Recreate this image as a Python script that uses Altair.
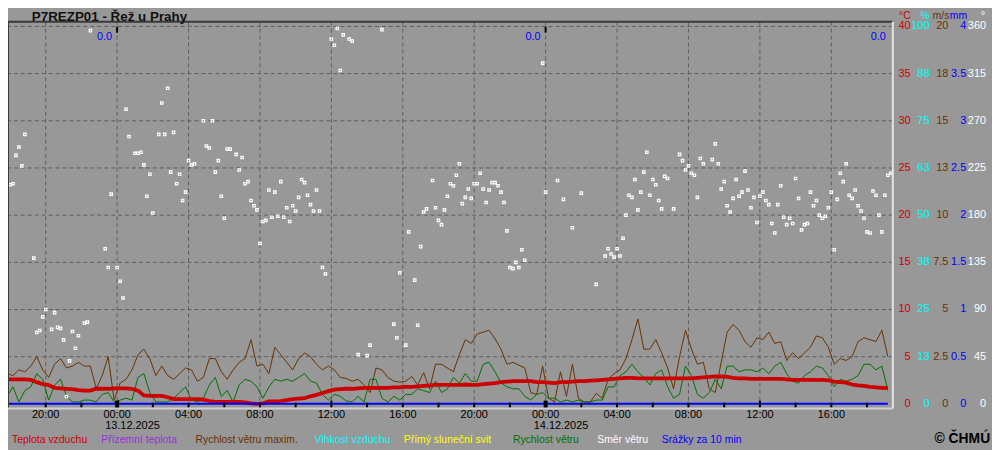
import altair as alt
import pandas as pd

# ---------------------------------------------------------------- data
# first sample: 12.12.2025 17:50, hours counted from 13.12.2025 00:00
FIRST_HOUR = -6.0 - 10.0 / 60.0

# 20-minute samples
temp_c = [
    2.6, 2.6, 2.6, 2.6, 2.55, 2.3, 2.1, 2.0, 1.7, 1.65,
    1.6, 1.55, 1.45, 1.4, 1.4, 1.6, 1.6, 1.6, 1.65, 1.65,
    1.65, 1.6, 1.4, 0.9, 0.85, 0.85, 0.85, 0.7, 0.5, 0.5,
    0.5, 0.5, 0.5, 0.45, 0.3, 0.2, 0.2, 0.2, 0.2, 0.2,
    0.15, 0.05, 0.0, 0.05, 0.25, 0.25, 0.3, 0.4, 0.5, 0.55,
    0.6, 0.8, 0.95, 1.15, 1.35, 1.5, 1.55, 1.6, 1.6, 1.65,
    1.7, 1.7, 1.7, 1.7, 1.7, 1.75, 1.75, 1.8, 1.8, 1.85,
    1.9, 1.95, 2.0, 2.0, 2.0, 2.0, 2.0, 2.05, 2.0, 2.0,
    2.1, 2.15, 2.2, 2.3, 2.35, 2.4, 2.4, 2.4, 2.4, 2.3,
    2.3, 2.25, 2.2, 2.3, 2.3, 2.35, 2.4, 2.4, 2.45, 2.5,
    2.55, 2.6, 2.65, 2.7, 2.75, 2.75, 2.7, 2.7, 2.7, 2.7,
    2.7, 2.7, 2.7, 2.7, 2.7, 2.7, 2.75, 2.8, 2.85, 2.9,
    2.9, 2.85, 2.75, 2.7, 2.7, 2.65, 2.65, 2.65, 2.65, 2.65,
    2.65, 2.6, 2.55, 2.55, 2.55, 2.55, 2.55, 2.55, 2.5, 2.35,
    2.3, 2.25, 2.05, 1.95, 1.9, 1.8, 1.75, 1.7, 1.7,
]
gust_ms = [
    1.6, 1.5, 1.8, 1.7, 2.0, 2.5, 1.8, 1.4, 2.1, 2.4,
    1.9, 2.0, 2.2, 2.0, 2.0, 0.8, 1.5, 2.5, 0.2, 1.1,
    1.3, 1.8, 2.6, 2.9, 2.4, 1.5, 2.0, 1.5, 1.3, 1.6,
    1.9, 1.8, 1.2, 1.4, 2.4, 2.4, 1.7, 1.3, 1.8, 2.2,
    2.4, 3.4, 2.0, 2.1, 1.6, 3.0, 2.6, 2.2, 1.8, 2.4,
    2.7, 2.5, 2.1, 1.8, 2.0, 1.8, 1.4, 1.35, 1.2, 1.3,
    1.0, 0.6, 1.9, 1.8, 1.4, 1.2, 1.15, 1.2, 1.45, 1.0,
    1.65, 0.8, 2.1, 2.1, 1.9, 1.7, 2.6, 3.4, 3.2, 3.7,
    3.8, 3.9, 3.45, 2.9, 2.1, 2.2, 2.05, 1.9, 0.6, 0.5,
    2.0, 0.3, 0.1, 1.7, 0.4, 2.1, 0.3, 0.1, 0.1, 0.55,
    0.3, 1.3, 1.6, 1.8, 2.4, 3.4, 4.5, 2.9, 2.9, 3.4,
    2.7, 1.9, 0.8, 2.5, 3.9, 2.9, 2.1, 2.2, 0.8, 0.6,
    2.2, 3.8, 4.2, 3.9, 3.3, 3.0, 3.5, 3.4, 3.8, 3.2,
    3.3, 2.3, 2.7, 2.4, 2.7, 3.0, 3.6, 3.5, 3.0, 2.1,
    2.4, 2.3, 2.5, 3.3, 3.5, 3.4, 3.3, 3.9, 2.5,
]
wind_ms = [
    0.4, 0.9, 0.1, 0.7, 0.9, 1.6, 1.3, 0.2, 1.0, 1.3,
    0.4, 0.1, 0.1, 0.2, 0.2, 0.1, 0.5, 0.6, 0.1, 0.2,
    0.3, 0.2, 1.4, 1.6, 0.6, 0.1, 0.1, 0.1, 0.3, 0.6,
    0.9, 0.2, 0.1, 0.3, 1.0, 1.4, 0.4, 0.7, 0.1, 1.0,
    1.3, 1.2, 0.9, 0.3, 0.9, 1.3, 1.2, 1.3, 1.2, 1.4,
    1.6, 1.2, 1.1, 0.5, 0.2, 0.5, 0.4, 0.15, 0.1, 0.4,
    0.1, 1.3, 1.3, 0.3, 0.1, 0.4, 0.2, 0.5, 0.5, 0.8,
    0.7, 0.6, 1.2, 0.6, 0.8, 1.4, 1.1, 1.6, 1.2, 1.2,
    2.1, 2.2, 1.7, 1.1, 0.9, 0.8, 0.8, 0.4, 0.2, 0.5,
    0.6, 0.3, 0.3, 0.1, 0.2, 0.1, 0.2, 0.1, 0.1, 0.2,
    0.2, 0.9, 0.9, 1.5, 1.7, 2.1, 1.7, 1.4, 1.0, 1.6,
    1.8, 0.9, 0.3, 0.5, 2.0, 1.5, 0.5, 0.3, 0.6, 1.3,
    0.8, 2.0, 2.0, 1.7, 1.8, 1.8, 1.7, 1.9, 1.6, 2.0,
    2.2, 1.6, 1.2, 1.1, 1.5, 1.7, 2.0, 1.9, 1.5, 0.9,
    1.3, 1.2, 1.3, 1.5, 2.1, 2.1, 1.8, 2.0, 0.7,
]
precip_mm = [0.0] * len(temp_c)

# wind direction: 10-minute sample number and direction in degrees
dir_idx = [
    0, 1, 2, 3, 4, 5, 6, 9, 10, 11, 12, 13, 15, 16, 17, 18, 19, 20, 21, 22,
    23, 24, 26, 27, 28, 33, 34, 35, 37, 38, 39, 40, 41, 43, 44, 45, 46, 47, 48, 49,
    51, 52, 53, 54, 55, 56, 57, 58, 59, 60, 61, 62, 63, 66, 67, 68, 69, 70, 71, 72,
    73, 74, 75, 77, 78, 79, 80, 81, 82, 83, 84, 85, 86, 87, 88, 89, 90, 91, 92, 93,
    94, 95, 96, 97,
    98, 99, 100, 101, 102, 103, 104, 105, 106, 107, 109, 110, 111, 112, 113, 115,
    116, 118, 121, 122, 126, 130, 131, 132, 134, 135, 137, 138, 139, 140, 141, 143,
    144, 145, 146, 147, 148, 149, 150, 151, 152, 153, 154, 155, 156, 157, 158, 159,
    160, 161, 162, 163, 164, 165, 166, 167, 168, 169, 170, 171, 172, 173, 174, 180,
    181, 185, 187, 190, 193,
    198, 201, 202, 203, 204, 205, 206, 207, 208, 209, 210, 211, 212, 213, 214, 215,
    216, 217, 218, 219, 220, 221, 222, 224, 226, 227, 228, 229, 230, 231, 232, 233,
    234, 237, 238, 239, 240, 241, 242, 243, 244, 245, 246, 247, 248, 249, 250, 251,
    252, 253, 254, 255, 256, 257, 258, 259, 260, 261, 262, 263, 264, 265, 266, 267,
    268, 269, 270, 271, 272, 273, 274, 275, 276, 277, 278, 279, 280, 281, 282, 283,
    284, 285, 286, 287, 288, 289, 290, 291, 292, 293, 294, 295, 296, 297,
]
dir_deg = [
    168, 209, 210, 237, 245, 227, 257, 139, 68, 70, 83, 90, 71, 87, 73, 72, 61, 7, 41, 69,
    53, 65, 77, 78, 356, 148, 130, 200, 130, 117, 101, 281, 255, 239, 239, 240, 228, 198, 219, 182,
    257, 287, 257, 301, 221, 259, 210, 219, 194, 202, 232, 228, 229, 270, 246, 244, 270, 221, 232, 198,
    177, 243, 243, 238, 223, 235, 210, 212, 194, 189, 185, 153, 174, 175, 204, 178, 202, 179, 212, 178,
    187, 174, 189, 184,
    197, 214, 211, 199, 190, 184, 204, 184, 130, 124, 348, 342, 358, 318, 352, 348,
    346, 47, 46, 56, 357, 76, 63, 125, 56, 164, 118, 75, 150, 183, 186, 213,
    187, 175, 171, 185, 198, 210, 208, 218, 229, 191, 197, 205, 196, 210, 210, 220,
    205, 192, 204, 211, 211, 208, 202, 192, 165, 130, 129, 135, 130, 147, 137, 325,
    202, 213, 195, 168, 201,
    114, 141, 148, 143, 140, 148, 141, 158, 180, 199, 197, 214, 185, 202, 221, 240,
    199, 214, 209, 194, 186, 217, 215, 186, 238, 232, 223, 227, 220, 218, 197, 234,
    229, 233, 248, 229, 205, 212, 189, 183, 196, 214, 198, 202, 222, 204, 187, 197,
    173, 198, 202, 194, 190, 172, 163, 190, 208, 178, 171, 177, 172, 215, 196, 166,
    171, 172, 202, 189, 194, 180, 177, 179, 187, 202, 147, 195, 220, 212, 229, 199,
    196, 204, 189, 184, 177, 164, 163, 203, 199, 180, 164, 199, 218, 220,
]

# right-hand scales
level_c = [0, 5, 10, 15, 20, 25, 30, 35, 40]
label_c = ["0", "5", "10", "15", "20", "25", "30", "35", "40"]
label_pct = ["0", "13", "25", "38", "50", "63", "75", "88", "100"]
label_ms = ["0", "2.5", "5", "7.5", "10", "13", "15", "18", "20"]
label_mm = ["0", "0.5", "1", "1.5", "2", "2.5", "3", "3.5", "4"]
label_deg = ["0", "45", "90", "135", "180", "225", "270", "315", "360"]
unit_labels = ["°C", "%", "m/s", "mm", "°"]

# time axis
tick_hours = [-4, 0, 4, 8, 12, 16, 20, 24, 28, 32, 36, 40]
tick_labels = ["20:00", "00:00", "04:00", "08:00", "12:00", "16:00",
               "20:00", "00:00", "04:00", "08:00", "12:00", "16:00"]
minor_tick_hours = [-4, -2, 2, 4, 6, 8, 10, 14, 16, 18, 20, 22,
                    26, 28, 30, 32, 34, 38, 40, 42]
noon_hours = [12, 36]
midnight_hours = [0, 24]
date_labels = ["13.12.2025", "14.12.2025"]

# daily precipitation totals
day_total_hours = [0, 24, 43.33]
day_total_text = ["0.0", "0.0", "0.0"]

title_text = "P7REZP01 - Řež u Prahy"
legend_items = [
    ("Teplota vzduchu", "#cc0000"),
    ("Přízemní teplota", "#9b30d9"),
    ("Rychlost větru maxim.", "#663300"),
    ("Vlhkost vzduchu", "#00ffff"),
    ("Přímý sluneční svit", "#ffff00"),
    ("Rychlost větru", "#007000"),
    ("Směr větru", "#ffffff"),
    ("Srážky za 10 min", "#0000ff"),
]

# ---------------------------------------------------------------- layout / style
W, H = 892, 390
BG = "#989898"
GRID = "#5e5e5e"
FONT = "Liberation Sans"
legend_x = [4, 94, 189, 309, 399, 509, 594, 659]
right_x = [910, 929, 948, 966, 986]
unit_x = [910, 929, 949, 967, 985]
right_colors = ["#cc0000", "#00ffff", "#663300", "#0000ff", "#ffffff"]

xs = alt.Scale(domain=[-110 / 18, 782 / 18], nice=False, zero=False)
ys_temp = alt.Scale(domain=[-0.5, 40.5], nice=False, zero=False)
ys_wind = alt.Scale(domain=[-0.25, 20.25], nice=False, zero=False)
ys_dir = alt.Scale(domain=[-4.5, 364.5], nice=False, zero=False)
ys_mm = alt.Scale(domain=[-0.05, 4.05], nice=False, zero=False)

n = len(temp_c)
series = pd.DataFrame({
    "h": [FIRST_HOUR + j / 3 for j in range(n)],
    "temp": temp_c, "wind": wind_ms, "gust": gust_ms, "precip": precip_mm,
})
dirs = pd.DataFrame({"h": [FIRST_HOUR + i / 6 for i in dir_idx], "deg": dir_deg})


def xh(field="h"):
    return alt.X(f"{field}:Q", scale=xs, axis=None)


layers = []

# grid
layers.append(alt.Chart(pd.DataFrame({"lvl": level_c[1:]})).mark_rule(
    color=GRID, strokeDash=[4, 3], strokeWidth=1).encode(
    y=alt.Y("lvl:Q", scale=ys_temp, axis=None)))
layers.append(alt.Chart(pd.DataFrame({"h": tick_hours})).mark_rule(
    color=GRID, strokeDash=[4, 3], strokeWidth=1).encode(x=xh()))

# series
layers.append(alt.Chart(series).mark_line(color="#663300", strokeWidth=1, clip=True).encode(
    x=xh(), y=alt.Y("gust:Q", scale=ys_wind, axis=None)))
layers.append(alt.Chart(series).mark_line(color="#007000", strokeWidth=1, clip=True).encode(
    x=xh(), y=alt.Y("wind:Q", scale=ys_wind, axis=None)))
layers.append(alt.Chart(series).mark_line(color="#cc0000", strokeWidth=3.8, clip=True).encode(
    x=xh(), y=alt.Y("temp:Q", scale=ys_temp, axis=None)))
layers.append(alt.Chart(series).mark_line(color="#0000ff", strokeWidth=2, clip=True).encode(
    x=xh(), y=alt.Y("precip:Q", scale=ys_mm, axis=None)))
layers.append(alt.Chart(dirs).mark_point(
    shape="square", filled=False, size=6, color="#ffffff", strokeWidth=1.2,
    opacity=1, clip=True).encode(
    x=xh(), y=alt.Y("deg:Q", scale=ys_dir, axis=None)))

# ticks at the bottom / top
layers.append(alt.Chart(pd.DataFrame({"h": minor_tick_hours})).mark_rule(
    color="#000000", strokeWidth=2).encode(x=xh(), y=alt.value(384), y2=alt.value(389)))
layers.append(alt.Chart(pd.DataFrame({"h": noon_hours})).mark_rule(
    color="#000000", strokeWidth=2).encode(x=xh(), y=alt.value(382), y2=alt.value(389)))
layers.append(alt.Chart(pd.DataFrame({"h": midnight_hours})).mark_rule(
    color="#000000", strokeWidth=4).encode(x=xh(), y=alt.value(382), y2=alt.value(390)))
layers.append(alt.Chart(pd.DataFrame({"h": midnight_hours})).mark_rule(
    color="#000000", strokeWidth=2).encode(x=xh(), y=alt.value(5), y2=alt.value(11)))

# frame
layers.append(alt.Chart(pd.DataFrame({"k": [0]})).mark_rule(color="#3a3a3a", strokeWidth=2).encode(
    y=alt.value(0)))
layers.append(alt.Chart(pd.DataFrame({"k": [0]})).mark_rule(color="#3a3a3a", strokeWidth=2).encode(
    x=alt.value(0)))
layers.append(alt.Chart(pd.DataFrame({"k": [0]})).mark_rule(color="#e4e4e4", strokeWidth=2).encode(
    x=alt.value(W)))
layers.append(alt.Chart(pd.DataFrame({"k": [0]})).mark_rule(color="#d0d0d0", strokeWidth=2).encode(
    y=alt.value(H)))

# right scale labels
right_df = pd.DataFrame({"lvl": level_c, "c": label_c, "p": label_pct,
                         "ms": label_ms, "mm": label_mm, "deg": label_deg})
for col, xp, colr in zip(["c", "p", "ms", "mm", "deg"], right_x, right_colors):
    layers.append(alt.Chart(right_df).mark_text(
        align="right", baseline="middle", font=FONT, fontSize=11, color=colr).encode(
        x=alt.value(xp), y=alt.Y("lvl:Q", scale=ys_temp, axis=None), text=f"{col}:N"))
for txt, xp, colr in zip(unit_labels, unit_x, right_colors):
    layers.append(alt.Chart(pd.DataFrame({"t": [txt]})).mark_text(
        align="right", baseline="middle", font=FONT, fontSize=10.5, color=colr).encode(
        x=alt.value(xp), y=alt.value(-6), text="t:N"))

# time labels and dates
layers.append(alt.Chart(pd.DataFrame({"h": tick_hours, "t": tick_labels})).mark_text(
    align="center", baseline="middle", font=FONT, fontSize=11, color="#000000").encode(
    x=xh(), y=alt.value(396), text="t:N"))
layers.append(alt.Chart(pd.DataFrame({"h": midnight_hours, "t": date_labels})).mark_text(
    align="left", baseline="middle", font=FONT, fontSize=11, color="#000000", dx=-12).encode(
    x=xh(), y=alt.value(407.5), text="t:N"))

# daily precipitation totals
layers.append(alt.Chart(pd.DataFrame({"h": day_total_hours, "t": day_total_text})).mark_text(
    align="right", baseline="middle", font=FONT, fontSize=11, color="#0000ff", dx=-5).encode(
    x=xh(), y=alt.value(15), text="t:N"))

# title
layers.append(alt.Chart(pd.DataFrame({"t": [title_text]})).mark_text(
    align="left", baseline="middle", font=FONT, fontSize=13.5, fontWeight="bold",
    color="#111111").encode(x=alt.value(24), y=alt.value(-5), text="t:N"))

# legend
for (txt, colr), xp in zip(legend_items, legend_x):
    layers.append(alt.Chart(pd.DataFrame({"t": [txt]})).mark_text(
        align="left", baseline="middle", font=FONT, fontSize=10.5, color=colr).encode(
        x=alt.value(xp), y=alt.value(421.5), text="t:N"))
layers.append(alt.Chart(pd.DataFrame({"t": ["© ČHMÚ"]})).mark_text(
    align="left", baseline="middle", font=FONT, fontSize=14, fontWeight="bold",
    color="#000000").encode(x=alt.value(934), y=alt.value(421), text="t:N"))

chart = alt.layer(*layers).resolve_scale(y="independent").properties(
    width=W, height=H, background=BG,
    padding={"left": 0, "top": 12, "right": 100, "bottom": 48},
    autosize=alt.AutoSizeParams(type="none"),
).configure_view(stroke=None)

chart.save("out.html", embed_options={"renderer": "svg", "actions": False})
